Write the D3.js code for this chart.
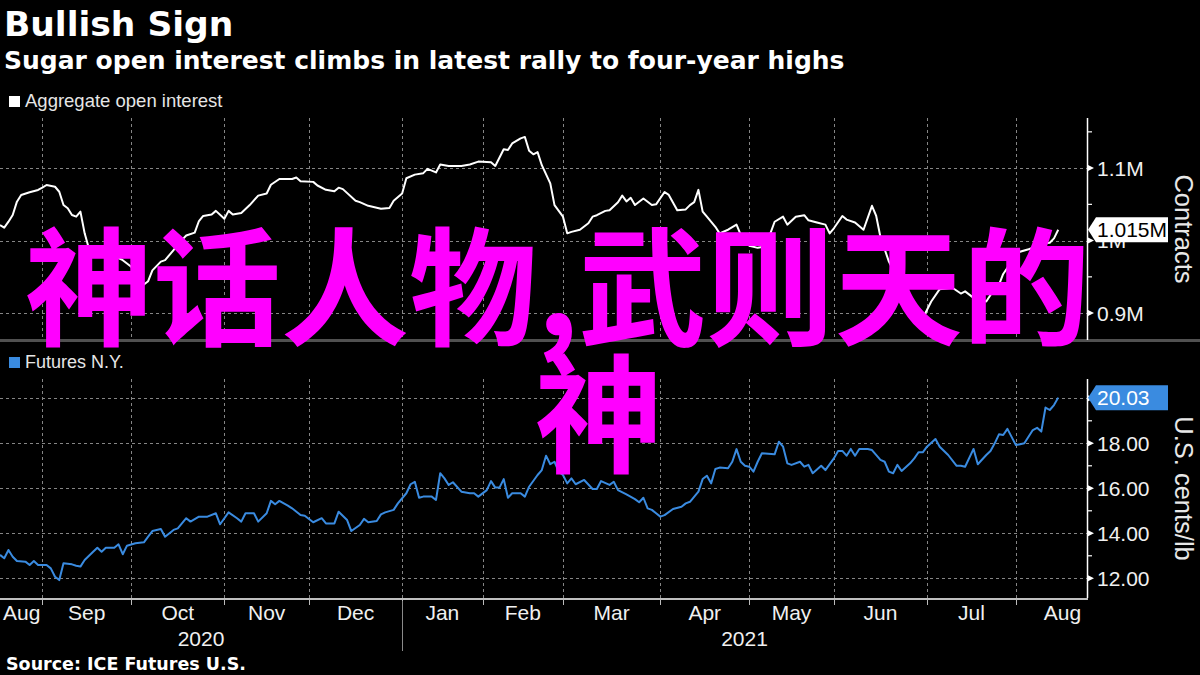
<!DOCTYPE html>
<html><head><meta charset="utf-8">
<script src="https://cdn.jsdelivr.net/npm/d3@7/dist/d3.min.js"></script>
<style>html,body{margin:0;padding:0;background:#000}svg{display:block}</style>
</head><body>
<svg id="chart" width="1200" height="675"></svg>
<script>
// ---- data (x = trading-session index from 18 Aug 2020) ----
const monthStarts = [-11, 10, 31, 53, 73, 95, 114, 133, 156, 177, 197, 219, 240, 262];
const monthLabels = ["Aug","Sep","Oct","Nov","Dec","Jan","Feb","Mar","Apr","May","Jun","Jul","Aug"];
const yearLabels = ["2020", "2021"];
const yearBreak = 95;
const lastSession = 256.8;

// Aggregate open interest, thousands of contracts
const oiSessions = [0,1,2,3,4,5,7,9,10,11,13,14,15,16,17,18,19,20,21,22,25,28,29,31,32,33,35,36,38,39,41,43,44,46,47,48,50,51,53,54,55,57,59,61,63,64,66,69,70,71,74,75,77,79,80,81,84,85,87,90,92,93,95,96,98,100,101,103,104,106,109,111,113,116,117,119,120,121,123,124,125,126,127,128,130,131,132,133,134,135,137,139,140,141,143,144,146,147,148,149,150,152,154,155,157,158,160,162,163,164,165,166,167,169,170,172,174,175,177,179,181,182,183,185,186,188,190,191,193,195,196,197,199,200,202,204,206,207,208,210,213,215,217,218,220,222,225,227,228,230,233,234,236,237,239,240,243,245,246,248,249,250];
const oiValues = [1021.5,1017.8,1026.1,1035.3,1053.7,1062.9,1066.6,1069.8,1073.0,1076.7,1074.3,1067.4,1049.1,1044.6,1035.3,1033.0,1039.9,1010,989,983,980,976,973,964,951,935,944,959,971,973,987,1001,1007,1011,1027,1034,1036,1041,1030,1041,1036,1038,1049,1062,1065,1077,1085,1085,1087,1082,1081,1076,1070,1068,1073,1071,1055,1053,1048,1044,1045,1055,1065,1086,1091,1093,1099,1094,1105,1103,1103,1105,1109,1108,1103,1126,1125,1134,1141,1143,1124,1119,1122,1104,1079,1049,1041,1033,1010,1012,1015,1024,1033,1035,1041,1042,1053,1062,1054,1059,1049,1058,1049,1050,1067,1063,1042,1043,1049,1053,1070,1040,1033,1019,1010,1015,1022,1008,993,990,992,1010,1026,1033,1022,1033,1035,1028,1025,1022,1010,1017,1034,1029,1025,1015,1048,1034,1005,971,936,908,891,893,916,933,935,927,930,921,916,925,939,954,971,983,988,992,996,997,1003,1015];

// Sugar No.11 futures N.Y., US cents/lb
const futSessions = [0,1,2,3,4,6,7,8,9,11,12,13,14,15,17,18,19,20,22,23,24,25,27,28,29,30,32,34,35,36,38,39,41,42,44,45,47,49,51,52,54,56,57,58,60,61,63,64,65,66,68,69,71,72,74,76,77,79,80,82,83,85,86,87,89,90,91,93,94,96,97,98,99,100,102,103,104,105,106,107,109,111,112,113,115,116,117,118,119,120,121,123,124,125,127,128,129,130,131,132,133,134,135,136,138,140,141,142,144,145,146,148,150,151,152,153,154,155,156,157,159,161,162,163,165,166,167,168,169,170,172,173,174,175,176,177,178,179,180,183,184,185,186,187,189,190,191,192,194,195,197,198,199,200,201,202,203,205,206,208,209,210,211,212,213,215,216,217,218,219,221,222,224,226,227,228,230,231,233,234,235,236,237,238,240,241,242,244,245,246,247,248,249,250];
const futValues = [13.04,12.89,13.26,12.96,12.77,12.74,12.59,12.77,12.59,12.59,12.44,12.07,11.92,12.67,12.62,12.56,12.52,12.81,13.18,13.36,13.18,13.36,13.36,13.51,13.07,13.45,13.56,13.60,13.85,14.10,14.19,13.85,14.15,14.22,14.67,14.52,14.74,14.74,14.89,14.40,14.93,14.67,14.52,14.89,14.89,14.52,14.89,15.44,15.29,15.44,15.23,15.11,14.81,14.78,14.49,14.67,14.44,14.44,14.96,14.59,14.10,14.37,14.64,14.49,14.55,14.84,14.93,15.04,15.33,15.78,16.18,16.29,15.58,15.63,15.63,15.48,16.67,16.44,16.15,16.27,15.85,15.78,15.78,15.63,15.92,16.32,16.03,16.03,16.41,15.58,15.78,15.78,15.63,16.07,16.59,16.81,17.45,17.07,17.18,16.74,16.59,16.22,16.44,16.18,16.37,15.97,15.97,16.32,16.15,16.29,15.92,15.73,15.52,15.38,15.58,15.11,15.04,14.89,14.74,14.81,15.08,15.18,15.33,15.40,15.85,16.41,16.56,16.22,16.86,16.92,16.89,17.18,17.74,17.18,17.00,16.96,16.74,17.18,17.56,17.51,18.07,17.85,17.11,17.04,17.18,16.96,17.04,16.67,17.00,16.81,17.33,17.66,17.66,17.45,17.75,17.45,17.75,17.75,17.70,17.26,17.18,16.74,16.67,17.04,16.77,17.11,17.33,17.60,17.60,17.85,18.19,17.85,17.48,17.00,17.00,16.96,17.75,17.07,17.48,17.66,18.00,18.40,18.37,18.64,17.92,17.96,18.00,18.59,18.69,18.52,19.59,19.48,19.70,20.03];

const oiMajor = [900, 1000, 1100];
const oiMinor = [950, 1050, 1150];
const futMajor = [12, 14, 16, 18, 20];
const futMinor = [13, 15, 17, 19];

// ---- layout ----
const svg = d3.select("#chart");
const W = 1200;
const plotR = 1087;
const top1 = 118, bot1 = 340, top2 = 379, bot2 = 598;
const tickFont = "'Liberation Sans', Arial, sans-serif";
const headFont = "'DejaVu Sans', Verdana, sans-serif";
const blue = "#3a8be0";

const x = d3.scaleLinear().domain([0, lastSession]).range([0, plotR]);
const yOI = d3.scaleLinear().domain([862.9, 1169.1]).range([bot1, top1]);
const yF = d3.scaleLinear().domain([11.124, 20.858]).range([bot2, top2]);

svg.append("rect").attr("width", W).attr("height", 675).attr("fill", "#000");

// titles
svg.append("text").attr("x", 4).attr("y", 36).text("Bullish Sign")
  .attr("font-family", headFont).attr("font-weight", "bold").attr("font-size", 34.5).attr("fill", "#fff");
svg.append("text").attr("x", 4).attr("y", 69).text("Sugar open interest climbs in latest rally to four-year highs")
  .attr("font-family", headFont).attr("font-weight", "bold").attr("font-size", 25).attr("fill", "#fff");
svg.append("text").attr("x", 6).attr("y", 670).text("Source: ICE Futures U.S.")
  .attr("font-family", headFont).attr("font-weight", "bold").attr("font-size", 17.5).attr("fill", "#fff");

// legends
function legend(y, color, label, size) {
  svg.append("rect").attr("x", 9).attr("y", y - 11).attr("width", 11).attr("height", 11).attr("fill", color);
  svg.append("text").attr("x", 25).attr("y", y).text(label)
    .attr("font-family", tickFont).attr("font-size", size).attr("fill", "#e6e6e6");
}
legend(107, "#ffffff", "Aggregate open interest", 18.5);
legend(368, blue, "Futures N.Y.", 18);

// separator
svg.append("rect").attr("x", 0).attr("y", 339).attr("width", W).attr("height", 3).attr("fill", "#505050");

// gridlines
const grid = svg.append("g").attr("stroke", "#858585").attr("stroke-width", 1).attr("stroke-dasharray", "3,3");
monthStarts.filter(m => m > 0 && m < lastSession).forEach(m => {
  const xx = Math.round(x(m)) + 0.5;
  grid.append("line").attr("x1", xx).attr("x2", xx).attr("y1", top1).attr("y2", bot1 - 1);
  grid.append("line").attr("x1", xx).attr("x2", xx).attr("y1", top2).attr("y2", bot2);
});
oiMajor.forEach(v => {
  const yy = Math.round(yOI(v)) + 0.5;
  grid.append("line").attr("x1", 0).attr("x2", plotR).attr("y1", yy).attr("y2", yy);
});
futMajor.forEach(v => {
  const yy = Math.round(yF(v)) + 0.5;
  grid.append("line").attr("x1", 0).attr("x2", plotR).attr("y1", yy).attr("y2", yy);
});

// series
const oiData = oiSessions.map((s, i) => [s, oiValues[i]]);
const futData = futSessions.map((s, i) => [s, futValues[i]]);
svg.append("path").datum(oiData)
  .attr("d", d3.line().x(d => x(d[0])).y(d => yOI(d[1])))
  .attr("fill", "none").attr("stroke", "#ffffff").attr("stroke-width", 2).attr("stroke-linejoin", "round");
svg.append("path").datum(futData)
  .attr("d", d3.line().x(d => x(d[0])).y(d => yF(d[1])))
  .attr("fill", "none").attr("stroke", blue).attr("stroke-width", 2).attr("stroke-linejoin", "round");

// right axes
function rightAxis(scale, y0, y1, major, minor, fmt) {
  const g = svg.append("g");
  g.append("line").attr("x1", plotR + 0.5).attr("x2", plotR + 0.5).attr("y1", y0).attr("y2", y1)
    .attr("stroke", "#fff").attr("stroke-width", 1.5);
  minor.forEach(v => {
    const yy = scale(v);
    g.append("line").attr("x1", plotR).attr("x2", plotR + 5).attr("y1", yy).attr("y2", yy)
      .attr("stroke", "#fff").attr("stroke-width", 1.2);
  });
  major.forEach(v => {
    const yy = scale(v);
    g.append("path").attr("d", `M${plotR},${yy - 3.5}L${plotR + 7},${yy}L${plotR},${yy + 3.5}Z`).attr("fill", "#fff");
    g.append("text").attr("x", plotR + 10).attr("y", yy).attr("dy", "0.36em").text(fmt(v))
      .attr("font-family", tickFont).attr("font-size", 21).attr("fill", "#f0f0f0");
  });
}
rightAxis(yOI, top1, bot1, oiMajor, oiMinor, v => d3.format("~g")(v / 1000) + "M");
rightAxis(yF, top2, bot2, futMajor, futMinor, d3.format(".2f"));

// axis titles
svg.append("text").attr("transform", `translate(1175,${(top1 + bot1) / 2}) rotate(90)`)
  .attr("text-anchor", "middle").text("Contracts")
  .attr("font-family", tickFont).attr("font-size", 25.5).attr("fill", "#e8e8e8");
svg.append("text").attr("transform", `translate(1175,${(top2 + bot2) / 2}) rotate(90)`)
  .attr("text-anchor", "middle").text("U.S. cents/lb")
  .attr("font-family", tickFont).attr("font-size", 25.5).attr("fill", "#e8e8e8");

// last value labels
function lastLabel(scale, v, fill, color, txt) {
  const yy = scale(v);
  svg.append("path")
    .attr("d", `M${plotR + 1},${yy}L${plotR + 9},${yy - 12.5}L1168,${yy - 12.5}L1168,${yy + 12.5}L${plotR + 9},${yy + 12.5}Z`)
    .attr("fill", fill);
  svg.append("text").attr("x", plotR + 10).attr("y", yy).attr("dy", "0.36em").text(txt)
    .attr("font-family", tickFont).attr("font-size", 21).attr("fill", color);
}
lastLabel(yOI, oiValues[oiValues.length - 1], "#ffffff", "#000",
  d3.format(".3f")(oiValues[oiValues.length - 1] / 1000) + "M");
lastLabel(yF, futValues[futValues.length - 1], blue, "#fff", d3.format(".2f")(futValues[futValues.length - 1]));

// x axis
const xa = svg.append("g");
xa.append("line").attr("x1", 0).attr("x2", plotR + 1).attr("y1", 599).attr("y2", 599)
  .attr("stroke", "#fff").attr("stroke-width", 1.5);
monthStarts.filter(m => m > 0 && m < lastSession).forEach(m => {
  const xx = Math.round(x(m)) + 0.5;
  xa.append("line").attr("x1", xx).attr("x2", xx).attr("y1", 599).attr("y2", 605)
    .attr("stroke", "#bbb").attr("stroke-width", 1);
});
monthLabels.forEach((lab, i) => {
  let cx = (x(monthStarts[i]) + x(monthStarts[i + 1])) / 2;
  const t = xa.append("text").attr("y", 620).attr("text-anchor", "middle").text(lab)
    .attr("font-family", tickFont).attr("font-size", 21).attr("fill", "#f0f0f0");
  const w = t.node().getComputedTextLength();
  cx = Math.max(cx, 3 + w / 2);
  t.attr("x", cx);
});
xa.append("line").attr("x1", Math.round(x(yearBreak)) + 0.5).attr("x2", Math.round(x(yearBreak)) + 0.5)
  .attr("y1", 601).attr("y2", 651).attr("stroke", "#8a8a8a").attr("stroke-width", 1);
xa.append("text").attr("x", x(yearBreak) / 2).attr("y", 646).attr("text-anchor", "middle").text(yearLabels[0])
  .attr("font-family", tickFont).attr("font-size", 21).attr("fill", "#f0f0f0");
xa.append("text").attr("x", (x(yearBreak) + plotR) / 2).attr("y", 646).attr("text-anchor", "middle").text(yearLabels[1])
  .attr("font-family", tickFont).attr("font-size", 21).attr("fill", "#f0f0f0");

// overlay caption
const cjk = "'Noto Sans CJK SC', 'Noto Sans CJK JP', sans-serif";
svg.append("text").attr("x", 25).attr("y", 336).text("神话人物,武则天的")
  .attr("font-family", cjk).attr("font-weight", "bold").attr("font-size", 128).attr("fill", "#ff00ff");
svg.append("text").attr("x", 535).attr("y", 463).text("神")
  .attr("font-family", cjk).attr("font-weight", "bold").attr("font-size", 128).attr("fill", "#ff00ff");
</script>
</body></html>
